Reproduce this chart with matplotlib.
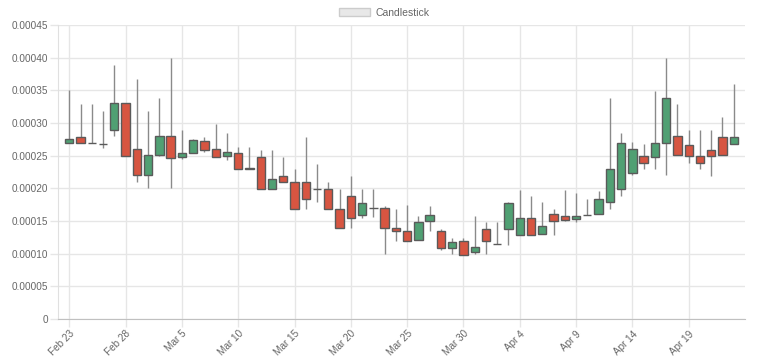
import numpy as np
import pandas as pd
import matplotlib
matplotlib.use('Agg')
from matplotlib import pyplot as plt
from matplotlib.patches import Patch
from matplotlib.transforms import ScaledTranslation

plt.rcParams['font.family'] = ['Liberation Sans', 'DejaVu Sans']

# daily OHLC values, in units of 1e-5
dates = pd.date_range('2019-02-23', periods=60, freq='D')
opens = [26.9, 27.9, 26.9, 26.8, 28.9, 33.0,
         26.0, 22.0, 25.1, 28.0, 24.8, 25.4, 27.3, 26.0, 24.9, 25.4,
         22.9, 24.8, 19.9, 21.9, 20.9, 20.9, 19.9, 19.9, 16.9, 18.9,
         15.9, 17.0, 17.0, 13.9, 13.5, 12.1, 15.0, 13.4, 10.9, 11.9, 10.3,
         13.8, 11.5, 13.8, 12.9, 15.4, 13.0, 16.1, 15.8, 15.3, 15.9,
         16.0, 17.9, 19.9, 22.4, 24.9, 24.8, 26.9, 28.0, 26.7, 25.0,
         25.8, 27.9, 26.8]
highs = [35.0, 32.9, 32.9, 31.9, 38.9, 33.0,
         36.8, 31.9, 33.9, 39.9, 28.9, 27.5, 27.9, 29.8, 28.4, 26.3,
         26.4, 25.9, 25.9, 24.8, 22.9, 27.9, 23.8, 20.9, 19.9, 21.9,
         19.9, 19.9, 17.3, 16.8, 17.4, 15.8, 17.3, 13.8, 12.4, 12.4, 15.8,
         14.8, 14.8, 17.9, 19.7, 18.8, 17.9, 16.8, 19.7, 19.3, 18.3,
         19.6, 33.9, 28.4, 27.1, 26.8, 34.9, 39.9, 32.9, 28.9, 28.9,
         28.9, 30.9, 36.0]
lows = [26.9, 26.9, 26.9, 26.1, 28.0, 25.0,
        20.9, 20.0, 25.0, 20.0, 24.5, 25.4, 25.5, 24.8, 24.4, 22.9,
        22.9, 19.9, 19.9, 20.9, 16.9, 16.8, 17.9, 16.9, 14.0, 14.0,
        15.4, 15.6, 9.9, 11.9, 11.9, 12.1, 13.4, 10.5, 9.9, 9.8, 9.9,
        9.9, 11.5, 11.3, 12.9, 12.9, 13.0, 12.9, 15.0, 14.9, 15.9,
        16.0, 16.9, 18.9, 22.0, 23.0, 23.0, 22.0, 25.1, 23.9, 22.9,
        21.9, 25.1, 26.8]
closes = [27.5, 26.9, 26.9, 26.8, 33.0, 25.0,
          22.0, 25.1, 28.0, 24.6, 25.4, 27.4, 25.9, 24.8, 25.5, 22.9,
          23.1, 19.9, 21.4, 20.9, 16.9, 18.4, 19.9, 16.9, 14.0, 15.4,
          17.7, 17.0, 13.9, 13.4, 11.9, 14.9, 15.9, 10.9, 11.8, 9.8, 11.0,
          11.9, 11.5, 17.8, 15.4, 12.9, 14.3, 15.0, 15.1, 15.8, 15.9,
          18.3, 22.9, 26.9, 26.0, 23.9, 26.9, 33.8, 25.1, 25.0, 23.9,
          24.9, 25.1, 27.9]

o = np.array(opens) * 1e-5
h = np.array(highs) * 1e-5
l = np.array(lows) * 1e-5
c = np.array(closes) * 1e-5
x = np.arange(len(dates))

up_col = '#50a073'
down_col = '#d75541'
flat_col = '#5a5a5a'
cols = [up_col if cc > oo else (down_col if cc < oo else flat_col) for oo, cc in zip(o, c)]

fig = plt.figure(figsize=(7.68, 3.64), dpi=100)
ax = fig.add_axes([58 / 768, 1 - 319 / 364, (745 - 58) / 768, (319 - 25) / 364])

ax.vlines(x, l, h, color='#8a8a8a', linewidth=1.0, zorder=2)
ax.bar(x, np.abs(c - o), bottom=np.minimum(o, c), width=0.74, color=cols,
       edgecolor='#5a5a5a', linewidth=1.0, zorder=3)

ax.set_xlim(-1, len(dates))
ax.set_ylim(0, 0.00045)

yt = np.arange(0, 0.00046, 0.00005)
ax.set_yticks(yt)
ax.set_yticklabels(['0'] + ['%.5f' % v for v in yt[1:]])
xt = x[::5]
ax.set_xticks(xt)
ax.set_xticklabels([d.strftime('%b ') + str(d.day) for d in dates[::5]],
                   rotation=45, ha='right', rotation_mode='anchor')
# nudge rotated labels so their end sits just right of the tick
for lab in ax.get_xticklabels():
    lab.set_transform(lab.get_transform() + ScaledTranslation(3 / 100, 0, fig.dpi_scale_trans))

ax.grid(True, color='#e6e6e6', linewidth=1.0, zorder=0)
ax.set_axisbelow(True)
ax.tick_params(axis='both', length=6, width=1.0, color='#e6e6e6',
               labelcolor='#666666', labelsize=7.2, pad=1)
for s in ['top', 'right']:
    ax.spines[s].set_visible(False)
ax.spines['left'].set_color('#e0e0e0')
ax.spines['bottom'].set_color('#c0c0c0')

handle = Patch(facecolor='#e8e8e8', edgecolor='#cccccc', linewidth=1.0)
fig.legend([handle], ['Candlestick'], loc='upper center', bbox_to_anchor=(0.5, 1.005),
           frameon=False, fontsize=7.5, labelcolor='#666666',
           handlelength=3.0, handleheight=0.9, handletextpad=0.5)

fig.savefig('out.png', dpi=100, facecolor='white')
